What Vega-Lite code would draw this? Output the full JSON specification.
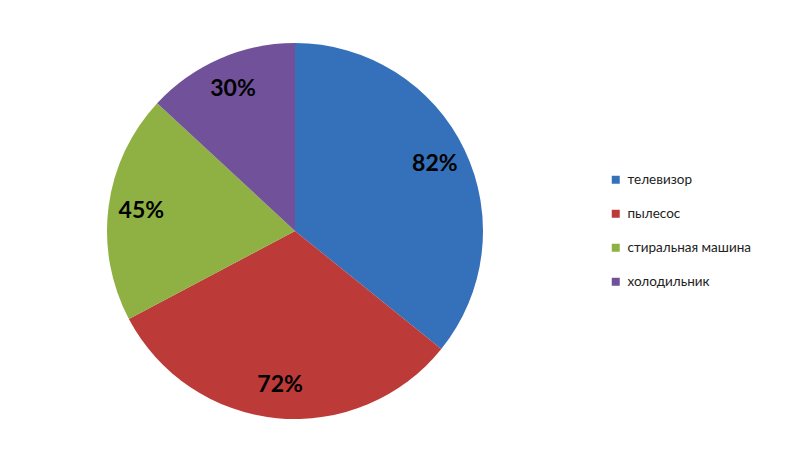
{
  "$schema": "https://vega.github.io/schema/vega-lite/v6.json",
  "width": 590,
  "height": 450,
  "autosize": {"type": "none"},
  "padding": {"left": 0, "top": 6, "right": 210, "bottom": 0},
  "background": "white",
  "view": {"stroke": null},
  "data": {
    "values": [
      {"item": "телевизор", "value": 82, "label": "82%", "order": 1},
      {"item": "пылесос", "value": 72, "label": "72%", "order": 2},
      {"item": "стиральная машина", "value": 45, "label": "45%", "order": 3},
      {"item": "холодильник", "value": 30, "label": "30%", "order": 4}
    ]
  },
  "encoding": {
    "theta": {"field": "value", "type": "quantitative", "stack": true},
    "order": {"field": "order", "type": "quantitative"}
  },
  "layer": [
    {
      "mark": {"type": "arc", "radius": 188},
      "encoding": {
        "color": {
          "field": "item",
          "type": "nominal",
          "sort": ["телевизор", "пылесос", "стиральная машина", "холодильник"],
          "scale": {
            "domain": ["телевизор", "пылесос", "стиральная машина", "холодильник"],
            "range": ["#3571BA", "#BC3A37", "#8FB043", "#71529A"]
          },
          "legend": {
            "title": null,
            "orient": "none",
            "legendX": 609,
            "legendY": 167,
            "symbolType": "square",
            "symbolSize": 64,
            "symbolStrokeWidth": 0,
            "labelFont": "Lato",
            "labelFontSize": 13.5,
            "labelColor": "#222222",
            "labelOffset": 5,
            "rowPadding": 19,
            "labelLimit": 300
          }
        }
      }
    },
    {
      "mark": {"type": "text", "radius": 155, "font": "Lato", "fontWeight": "bold", "fontSize": 23, "color": "#000000"},
      "encoding": {
        "text": {"field": "label", "type": "nominal"}
      }
    }
  ]
}
